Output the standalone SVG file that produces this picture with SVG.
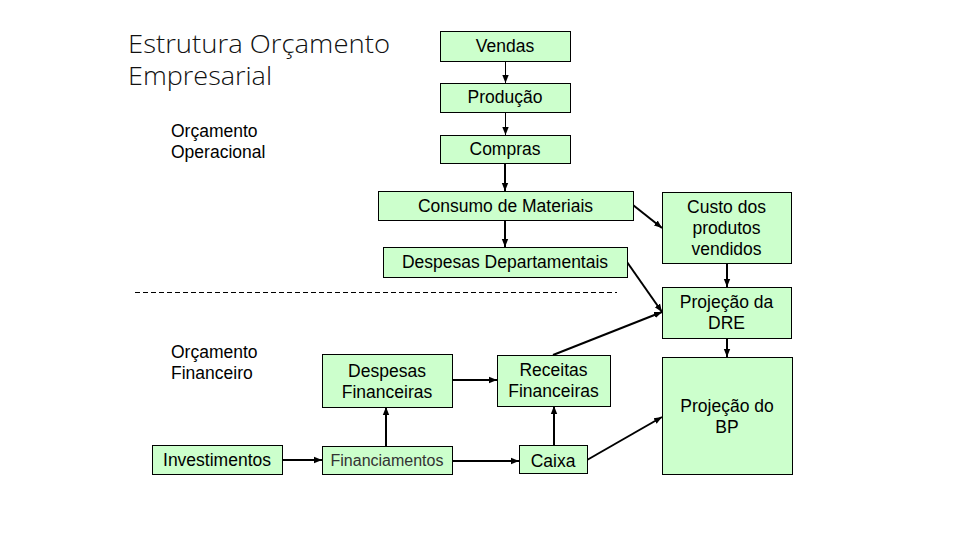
<svg xmlns="http://www.w3.org/2000/svg" width="960" height="540" viewBox="0 0 960 540">
<defs>
<marker id="ah" viewBox="0 0 10 10" refX="10" refY="5" markerWidth="8" markerHeight="8" markerUnits="userSpaceOnUse" orient="auto">
<path d="M0,1 L10,5 L0,9 z" fill="#000"/>
</marker>
</defs>
<style>
.box{fill:#ccffcc;stroke:#000;stroke-width:1;shape-rendering:crispEdges}
.t{font-family:"Liberation Sans",Arial,sans-serif;font-size:17.5px;fill:#000;text-anchor:middle}
.lab{font-family:"Liberation Sans",Arial,sans-serif;font-size:17.5px;fill:#000}
.title{font-family:"Open Sans",sans-serif;font-weight:300;font-size:25px;fill:#111}
.c{stroke:#000;stroke-width:2;fill:none;marker-end:url(#ah)}
.thin{stroke-width:1}
</style>
<rect width="960" height="540" fill="#fff"/>
<g id="title">
<text class="title" x="128" y="53" textLength="262" lengthAdjust="spacingAndGlyphs">Estrutura Orçamento</text>
<text class="title" x="128" y="85" textLength="144" lengthAdjust="spacingAndGlyphs">Empresarial</text>
</g>
<g id="label-operacional"><text class="lab" x="171" y="137">Orçamento</text><text class="lab" x="171" y="158">Operacional</text></g>
<g id="label-financeiro"><text class="lab" x="171" y="358">Orçamento</text><text class="lab" x="171" y="379">Financeiro</text></g>
<line x1="135" y1="292.5" x2="617" y2="292.5" stroke="#000" stroke-width="1" stroke-dasharray="5,3"/>
<g id="connectors">
<line class="c thin" x1="505.5" y1="61" x2="505.5" y2="83"/>
<line class="c thin" x1="505.5" y1="112" x2="505.5" y2="135"/>
<line class="c" x1="505" y1="163" x2="505" y2="191"/>
<line class="c" x1="505" y1="220" x2="505" y2="247"/>
<line class="c" x1="633" y1="205" x2="662" y2="228"/>
<line class="c" x1="727" y1="263" x2="727" y2="287"/>
<line class="c" x1="627" y1="262" x2="662" y2="312"/>
<line class="c" x1="553" y1="355" x2="662" y2="312"/>
<line class="c" x1="727" y1="338" x2="727" y2="357"/>
<line class="c" x1="452" y1="380" x2="497" y2="380"/>
<line class="c" x1="386" y1="446" x2="386" y2="407"/>
<line class="c" x1="282" y1="460" x2="322" y2="460"/>
<line class="c" x1="452" y1="461" x2="519" y2="461"/>
<line class="c" x1="554" y1="445" x2="554" y2="406"/>
<line class="c" x1="587" y1="460" x2="662" y2="417"/>
</g>
<g id="vendas"><rect class="box" x="440" y="31" width="130" height="30"/><text class="t" x="505" y="52">Vendas</text></g>
<g id="producao"><rect class="box" x="440" y="83" width="130" height="29"/><text class="t" x="505" y="103">Produção</text></g>
<g id="compras"><rect class="box" x="440" y="135" width="130" height="28"/><text class="t" x="505" y="155">Compras</text></g>
<g id="consumo"><rect class="box" x="378" y="191" width="255" height="29"/><text class="t" x="505.5" y="212">Consumo de Materiais</text></g>
<g id="despesas-dep"><rect class="box" x="383" y="247" width="244" height="30"/><text class="t" x="505" y="268">Despesas Departamentais</text></g>
<g id="custo"><rect class="box" x="662" y="192" width="129" height="71"/><text class="t" x="726.5" y="213">Custo dos</text><text class="t" x="726.5" y="234">produtos</text><text class="t" x="726.5" y="255">vendidos</text></g>
<g id="dre"><rect class="box" x="662" y="287" width="129" height="51"/><text class="t" x="726.5" y="308">Projeção da</text><text class="t" x="726.5" y="329">DRE</text></g>
<g id="despesas-fin"><rect class="box" x="322" y="354" width="130" height="53"/><text class="t" x="387" y="377">Despesas</text><text class="t" x="387" y="398">Financeiras</text></g>
<g id="receitas-fin"><rect class="box" x="497" y="355" width="113" height="51"/><text class="t" x="553.5" y="376">Receitas</text><text class="t" x="553.5" y="397">Financeiras</text></g>
<g id="bp"><rect class="box" x="662" y="357" width="130" height="117"/><text class="t" x="727" y="412">Projeção do</text><text class="t" x="727" y="433">BP</text></g>
<g id="investimentos"><rect class="box" x="152" y="445" width="130" height="29"/><text class="t" x="217" y="466">Investimentos</text></g>
<g id="financiamentos"><rect class="box" x="322" y="446" width="130" height="28"/><text class="t" x="387" y="466" style="font-size:16px;fill:#333">Financiamentos</text></g>
<g id="caixa"><rect class="box" x="519" y="445" width="68" height="28"/><text class="t" x="553" y="467">Caixa</text></g>
</svg>
